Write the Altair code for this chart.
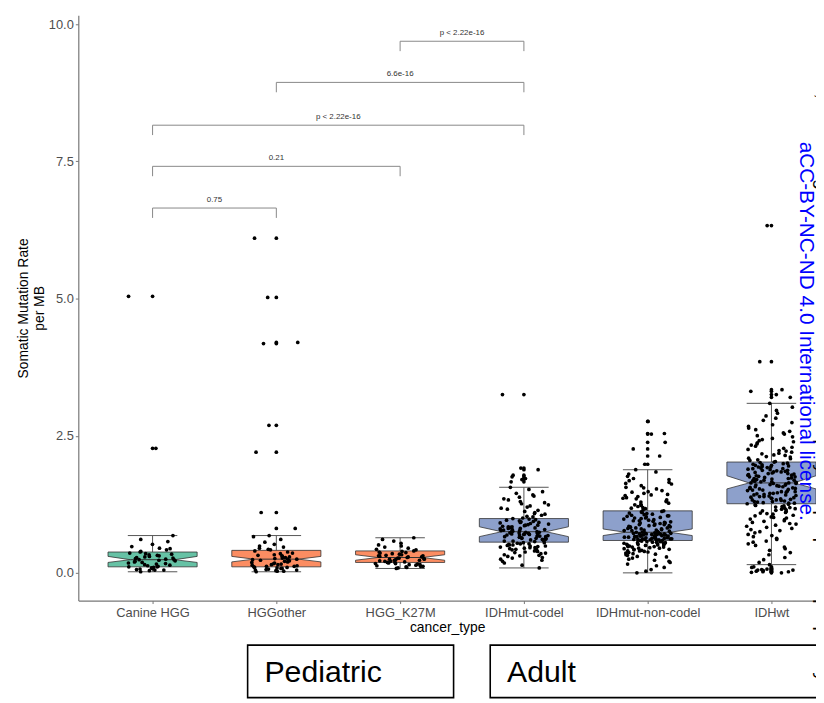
import json
import altair as alt
import pandas as pd

# ---------------- data ----------------
cats = ["Canine HGG", "HGGother", "HGG_K27M", "IDHmut-codel", "IDHmut-non-codel", "IDHwt"]
groups = ["Canine", "Pediatric", "Pediatric", "Adult", "Adult", "Adult"]

whisk_lo = [0.02, 0.02, 0.08, 0.09, 0.00, 0.15]
q1 = [0.11, 0.11, 0.19, 0.56, 0.59, 1.26]
notch_lo = [0.19, 0.20, 0.23, 0.66, 0.68, 1.53]
median = [0.24, 0.25, 0.28, 0.75, 0.74, 1.64]
notch_hi = [0.30, 0.30, 0.33, 0.84, 0.80, 1.77]
q3 = [0.38, 0.41, 0.40, 0.99, 1.13, 2.02]
whisk_hi = [0.68, 0.68, 0.64, 1.56, 1.88, 3.09]

canine = [0.02, 0.04, 0.05, 0.05, 0.06, 0.07, 0.08, 0.09, 0.10, 0.11, 0.11, 0.12, 0.13,
          0.14, 0.15, 0.16, 0.17, 0.18, 0.19, 0.20, 0.21, 0.22, 0.23, 0.24, 0.24, 0.25,
          0.26, 0.27, 0.28, 0.29, 0.30, 0.31, 0.32, 0.33, 0.34, 0.35, 0.36, 0.38, 0.39,
          0.42, 0.44, 0.45, 0.48, 0.52, 0.57, 0.61, 0.68, 2.27, 5.04]
hggother = [0.02, 0.03, 0.03, 0.04, 0.05, 0.05, 0.06, 0.07, 0.08, 0.08, 0.09, 0.10, 0.10,
            0.11, 0.12, 0.12, 0.13, 0.14, 0.15, 0.15, 0.16, 0.17, 0.18, 0.19, 0.20, 0.21,
            0.22, 0.23, 0.24, 0.25, 0.25, 0.26, 0.27, 0.28, 0.29, 0.30, 0.31, 0.32, 0.33,
            0.35, 0.36, 0.38, 0.40, 0.42, 0.43, 0.45, 0.47, 0.49, 0.52, 0.56, 0.61, 0.66,
            0.68, 0.81, 1.10, 2.20, 2.69, 4.18, 4.20, 5.02, 6.10]
k27m = [0.08, 0.09, 0.10, 0.11, 0.12, 0.12, 0.13, 0.14, 0.15, 0.15, 0.16, 0.17, 0.17,
        0.18, 0.19, 0.19, 0.20, 0.21, 0.21, 0.22, 0.23, 0.23, 0.24, 0.25, 0.25, 0.26,
        0.27, 0.27, 0.28, 0.29, 0.29, 0.30, 0.31, 0.31, 0.32, 0.33, 0.34, 0.35, 0.36,
        0.37, 0.38, 0.39, 0.40, 0.42, 0.43, 0.45, 0.47, 0.49, 0.51, 0.54, 0.58, 0.61, 0.64]
codel = [0.09, 0.14, 0.18, 0.21, 0.23, 0.25, 0.27, 0.28, 0.30, 0.31, 0.32, 0.33, 0.35,
         0.36, 0.37, 0.38, 0.39, 0.40, 0.41, 0.42, 0.43, 0.43, 0.44, 0.45, 0.46, 0.46,
         0.47, 0.48, 0.49, 0.49, 0.50, 0.51, 0.51, 0.52, 0.53, 0.53, 0.54, 0.55, 0.55,
         0.57, 0.58, 0.58, 0.59, 0.60, 0.60, 0.61, 0.61, 0.62, 0.62, 0.63, 0.63, 0.64,
         0.65, 0.65, 0.66, 0.66, 0.67, 0.67, 0.68, 0.68, 0.69, 0.69, 0.70, 0.70, 0.71,
         0.71, 0.72, 0.72, 0.73, 0.73, 0.74, 0.74, 0.75, 0.75, 0.76, 0.77, 0.77, 0.78,
         0.79, 0.79, 0.80, 0.81, 0.81, 0.82, 0.83, 0.84, 0.84, 0.85, 0.86, 0.87, 0.87,
         0.88, 0.89, 0.90, 0.91, 0.92, 0.92, 0.93, 0.94, 0.95, 0.96, 0.97, 0.98, 0.99,
         1.00, 1.02, 1.03, 1.05, 1.07, 1.08, 1.10, 1.12, 1.14, 1.16, 1.18, 1.20, 1.22,
         1.24, 1.26, 1.28, 1.30, 1.33, 1.35, 1.38, 1.40, 1.42, 1.45, 1.48, 1.52, 1.56,
         1.66, 1.70, 1.72, 1.75, 1.78, 1.88, 1.91, 3.25]
noncodel = [0.00, 0.03, 0.06, 0.10, 0.13, 0.16, 0.19, 0.21, 0.23, 0.25, 0.27, 0.29, 0.30,
            0.32, 0.33, 0.34, 0.35, 0.36, 0.37, 0.38, 0.39, 0.40, 0.40, 0.41, 0.42, 0.43,
            0.43, 0.44, 0.45, 0.45, 0.46, 0.47, 0.47, 0.48, 0.48, 0.49, 0.50, 0.50, 0.51,
            0.51, 0.52, 0.52, 0.53, 0.53, 0.54, 0.54, 0.55, 0.55, 0.56, 0.56, 0.57, 0.57,
            0.58, 0.58, 0.59, 0.59, 0.60, 0.60, 0.60, 0.61, 0.61, 0.61, 0.62, 0.62, 0.62,
            0.63, 0.63, 0.63, 0.64, 0.64, 0.64, 0.65, 0.65, 0.65, 0.66, 0.66, 0.66, 0.67,
            0.67, 0.67, 0.68, 0.68, 0.68, 0.69, 0.69, 0.69, 0.70, 0.70, 0.70, 0.71, 0.71,
            0.71, 0.72, 0.72, 0.72, 0.73, 0.73, 0.73, 0.74, 0.74, 0.74, 0.75, 0.76, 0.77,
            0.77, 0.78, 0.78, 0.79, 0.80, 0.80, 0.81, 0.82, 0.82, 0.83, 0.84, 0.84, 0.85,
            0.86, 0.86, 0.87, 0.88, 0.88, 0.89, 0.90, 0.91, 0.91, 0.92, 0.93, 0.94, 0.95,
            0.95, 0.96, 0.97, 0.98, 0.99, 1.00, 1.00, 1.01, 1.02, 1.03, 1.04, 1.04, 1.05,
            1.06, 1.07, 1.08, 1.09, 1.10, 1.11, 1.12, 1.13, 1.15, 1.17, 1.18, 1.19, 1.21,
            1.23, 1.24, 1.25, 1.27, 1.29, 1.30, 1.31, 1.33, 1.35, 1.36, 1.37, 1.39, 1.41,
            1.42, 1.43, 1.45, 1.47, 1.48, 1.50, 1.53, 1.55, 1.56, 1.59, 1.62, 1.63, 1.65,
            1.68, 1.70, 1.72, 1.76, 1.80, 1.84, 1.88, 1.98, 2.13, 2.26, 2.38, 2.53, 2.54,
            2.76]
idhwt = [0.00, 0.01, 0.02, 0.02, 0.03, 0.04, 0.05, 0.05, 0.06, 0.07, 0.08, 0.10, 0.11,
         0.15, 0.19, 0.24, 0.28, 0.33, 0.37, 0.41, 0.44, 0.47, 0.50, 0.53, 0.56, 0.58,
         0.61, 0.63, 0.66, 0.68, 0.70, 0.73, 0.75, 0.77, 0.79, 0.81, 0.83, 0.85, 0.87,
         0.89, 0.90, 0.92, 0.94, 0.95, 0.97, 0.98, 1.00, 1.01, 1.02, 1.04, 1.05, 1.07,
         1.08, 1.09, 1.10, 1.12, 1.13, 1.14, 1.15, 1.16, 1.17, 1.18, 1.19, 1.20, 1.21,
         1.22, 1.23, 1.24, 1.25, 1.26, 1.27, 1.27, 1.28, 1.29, 1.30, 1.30, 1.31, 1.32,
         1.33, 1.33, 1.34, 1.35, 1.36, 1.36, 1.37, 1.38, 1.39, 1.39, 1.40, 1.41, 1.42,
         1.42, 1.43, 1.44, 1.45, 1.45, 1.46, 1.47, 1.48, 1.48, 1.49, 1.50, 1.51, 1.51,
         1.52, 1.53, 1.54, 1.54, 1.55, 1.56, 1.57, 1.57, 1.58, 1.59, 1.60, 1.60, 1.61,
         1.62, 1.63, 1.63, 1.64, 1.64, 1.65, 1.66, 1.66, 1.67, 1.68, 1.69, 1.69, 1.70,
         1.71, 1.72, 1.72, 1.73, 1.74, 1.75, 1.75, 1.76, 1.77, 1.78, 1.78, 1.79, 1.80,
         1.81, 1.81, 1.82, 1.83, 1.84, 1.84, 1.85, 1.86, 1.87, 1.87, 1.88, 1.89, 1.90,
         1.90, 1.91, 1.92, 1.93, 1.93, 1.94, 1.95, 1.96, 1.96, 1.97, 1.98, 1.99, 2.00,
         2.01, 2.02, 2.03, 2.05, 2.06, 2.08, 2.09, 2.11, 2.12, 2.14, 2.15, 2.17, 2.18,
         2.20, 2.22, 2.23, 2.25, 2.27, 2.29, 2.31, 2.33, 2.35, 2.37, 2.39, 2.41, 2.43,
         2.45, 2.48, 2.50, 2.53, 2.55, 2.58, 2.61, 2.64, 2.67, 2.70, 2.74, 2.78, 2.82,
         2.86, 2.91, 2.96, 3.02, 3.09, 3.20, 3.25, 3.31, 3.34, 3.85, 6.33]
values_by_cat = [canine, hggother, k27m, codel, noncodel, idhwt]

br_from = [0, 0, 0, 1, 2]
br_to = [1, 2, 3, 3, 3]
br_y = [6.65, 7.41, 8.16, 8.94, 9.69]
br_label = ["0.75", "0.21", "p < 2.22e-16", "6.6e-16", "p < 2.22e-16"]

# ---------------- tables ----------------
box_df = pd.DataFrame({
    "cat": cats, "idx": list(range(len(cats))), "grp": groups,
    "lo": whisk_lo, "q1": q1, "nlo": notch_lo, "med": median,
    "nhi": notch_hi, "q3": q3, "hi": whisk_hi,
})
rows = []
for i, vals in enumerate(values_by_cat):
    for v in vals:
        rows.append({"cat": cats[i], "idx": i, "v": v, "lo": whisk_lo[i], "hi": whisk_hi[i]})
pts_df = pd.DataFrame(rows)
br_df = pd.DataFrame({"x1": br_from, "x2": br_to, "y": br_y, "label": br_label})

FONT = "Liberation Sans"
W, H = 745, 591
xscale = alt.Scale(domain=[-0.6, -0.6 + W / 125.0], nice=False, zero=False)
yscale = alt.Scale(domain=[-0.505, 10.162], nice=False, zero=False)
fill_scale = alt.Scale(domain=["Canine", "Pediatric", "Adult"],
                       range=["#66c2a5", "#fc8d62", "#8da0cb"])

label_expr = json.dumps(cats) + "[round(datum.value)]"
xaxis = alt.Axis(values=list(range(len(cats))), labelExpr=label_expr, title="cancer_type",
                 grid=False, labelFontSize=13, labelColor="#4d4d4d", labelFont=FONT,
                 titleFont=FONT, titleFontSize=14, titleFontWeight="normal", titleColor="#000",
                 tickSize=3, tickColor="#777", domainColor="#777", domainWidth=1.2,
                 labelPadding=3, titlePadding=1)
yaxis = alt.Axis(values=[0, 2.5, 5, 7.5, 10], format=".1f",
                 title=["Somatic Mutation Rate", "per MB"], grid=False,
                 labelFontSize=13, labelColor="#4d4d4d", labelFont=FONT,
                 titleFont=FONT, titleFontSize=14, titleFontWeight="normal", titleColor="#000",
                 tickSize=3, tickColor="#777", domainColor="#777", domainWidth=1.2,
                 labelPadding=2, titlePadding=2)

X = lambda f, **kw: alt.X(f, scale=xscale, axis=xaxis, **kw)
Y = lambda f: alt.Y(f, scale=yscale, axis=yaxis)

# whisker vertical line
whisk = alt.Chart(box_df).mark_rule(color="#555", strokeWidth=1).encode(
    x=X("idx:Q"), y=Y("lo:Q"), y2="hi:Q")
# caps
caps = alt.Chart(box_df).transform_fold(["lo", "hi"], as_=["k", "capv"]).transform_calculate(
    cl="datum.idx - 0.2", cr="datum.idx + 0.2"
).mark_rule(color="#555", strokeWidth=1).encode(x=X("cl:Q"), x2="cr:Q", y=Y("capv:Q"))
# notched box as a horizontal area polygon (one path per category)
box = alt.Chart(box_df).transform_fold(["q1", "nlo", "med", "nhi", "q3"], as_=["k", "bv"]
).transform_calculate(
    inset="datum.k == 'med' ? 0.18 : 0",
    xl="datum.idx - 0.36 + datum.inset",
    xr="datum.idx + 0.36 - datum.inset",
).mark_area(orient="horizontal", stroke="#333", strokeWidth=0.8, opacity=1).encode(
    y=Y("bv:Q"), x=X("xl:Q", stack=None), x2="xr:Q",
    fill=alt.Fill("grp:N", scale=fill_scale, legend=None),
    detail="cat:N")
med_line = alt.Chart(box_df).transform_calculate(
    ml="datum.idx - 0.18", mr="datum.idx + 0.18"
).mark_rule(color="#333", strokeWidth=1).encode(x=X("ml:Q"), x2="mr:Q", y=Y("med:Q"))
# outliers drawn at the box centre
outl = alt.Chart(pts_df).transform_filter("datum.v > datum.hi || datum.v < datum.lo").mark_circle(
    color="black", size=14, opacity=1).encode(x=X("idx:Q"), y=Y("v:Q"))
# jittered points
jit = alt.Chart(pts_df).transform_window(i="row_number()").transform_calculate(
    jx="datum.idx + 0.2 * ((abs(sin(datum.i * 12.9898 + 78.233) * 43758.5453) % 1) * 2 - 1)"
).mark_circle(color="black", size=14, opacity=1).encode(x=X("jx:Q"), y=Y("v:Q"))

# significance brackets
br_h = alt.Chart(br_df).mark_rule(color="#888", strokeWidth=1).encode(
    x=X("x1:Q"), x2="x2:Q", y=Y("y:Q"))
br_legs = alt.Chart(br_df).transform_fold(["x1", "x2"], as_=["k", "lx"]).transform_calculate(
    yb="datum.y - 0.18").mark_rule(color="#888", strokeWidth=1).encode(
    x=X("lx:Q"), y=Y("y:Q"), y2="yb:Q")
br_txt = alt.Chart(br_df).transform_calculate(xm="(datum.x1 + datum.x2) / 2").mark_text(
    fontSize=8, font=FONT, color="#333", baseline="bottom", dy=-4).encode(
    x=X("xm:Q"), y=Y("y:Q"), text="label:N")

one = alt.Data(values=[{"a": 1}])
ped_box = alt.Chart(one).mark_rect(fill="white", stroke="black", strokeWidth=1.6, clip=False).encode(
    x=alt.value(171), x2=alt.value(379), y=alt.value(636), y2=alt.value(689))
ad_box = alt.Chart(one).mark_rect(fill="white", stroke="black", strokeWidth=1.6, clip=False).encode(
    x=alt.value(416), x2=alt.value(770), y=alt.value(636), y2=alt.value(689))
ped_txt = alt.Chart(one).mark_text(text="Pediatric", font=FONT, fontSize=30.5, align="left",
                                   baseline="middle", color="black").encode(
    x=alt.value(188), y=alt.value(664))
ad_txt = alt.Chart(one).mark_text(text="Adult", font=FONT, fontSize=30.5, align="left",
                                  baseline="middle", color="black").encode(
    x=alt.value(433), y=alt.value(664))
side = alt.Chart(one).mark_text(
    text="the author/funder, who has granted bioRxiv a license to display the preprint in perpetuity. It is made",
    font=FONT, fontSize=19, angle=90, align="center", baseline="middle", color="black"
).encode(x=alt.value(752), y=alt.value(350))
lic = alt.Chart(one).mark_text(text="aCC-BY-NC-ND 4.0 International license.", font=FONT,
                               fontSize=21, angle=90, align="center", baseline="middle",
                               color="#0000ff").encode(x=alt.value(735), y=alt.value(319))

chart = alt.layer(
    whisk, caps, box, med_line, outl, jit, br_h, br_legs, br_txt,
    ped_box, ad_box, ped_txt, ad_txt, side, lic
).properties(
    width=W, height=H,
    padding={"left": 71, "top": 4, "right": 0, "bottom": 99},
    autosize=alt.AutoSizeParams(type="none"),
    background="white",
).configure_view(stroke=None)

chart.save("out.html", embed_options={"renderer": "svg", "actions": False})
